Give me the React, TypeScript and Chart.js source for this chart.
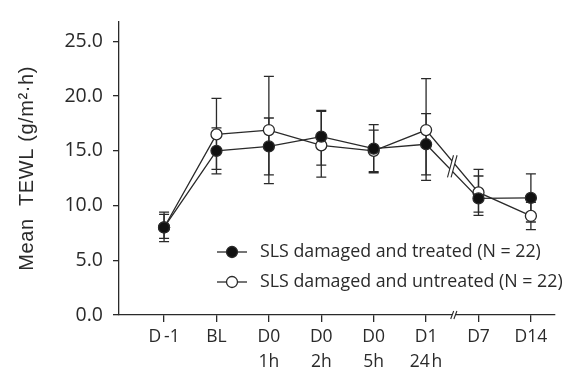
import React, { useEffect, useRef } from 'react';
import { Chart, registerables } from 'chart.js';

Chart.register(...registerables);

// ---- data ----
const categories: string[][] = [['D\u2009-1'], ['BL'], ['D0', '1h'], ['D0', '2h'], ['D0', '5h'], ['D1', '24\u200Ah'], ['D7'], ['D14']];
const treatedMean = [8.0, 15.0, 15.4, 16.3, 15.2, 15.6, 10.65, 10.7];
const treatedUpper = [9.4, 17.1, 18.0, 18.7, 17.4, 18.4, 12.7, 12.9];
const treatedLower = [6.7, 12.9, 12.8, 13.7, 13.0, 12.8, 9.1, 8.5];
const untreatedMean = [8.0, 16.5, 16.9, 15.5, 15.0, 16.9, 11.2, 9.05];
const untreatedUpper = [9.2, 19.8, 21.8, 18.6, 16.9, 21.6, 13.3, 10.3];
const untreatedLower = [7.0, 13.3, 12.0, 12.6, 13.1, 12.3, 9.4, 7.8];
const yTicks = [0, 5, 10, 15, 20, 25];
const legendLabels = ['SLS damaged and treated (N = 22)', 'SLS damaged and untreated (N = 22)'];
const yTitle = 'Mean  TEWL (g/m²·h)';
const breakAt = 5.5;

const INK = '#2a2a2a';
const FONT = '"Open Sans", "Noto Sans", sans-serif';
const TITLE_FONT = '"Liberation Sans", Arial, sans-serif';

const errorBarPlugin = {
  id: 'errorBars',
  beforeDatasetsDraw(chart: any) {
    const { ctx, scales: { x, y } } = chart;
    ctx.save();
    ctx.strokeStyle = INK;
    ctx.lineWidth = 1.3;
    const sets = [[treatedUpper, treatedLower], [untreatedUpper, untreatedLower]];
    sets.forEach(([up, lo]) => {
      up.forEach((u: number, i: number) => {
        const px = x.getPixelForValue(i);
        const pu = y.getPixelForValue(u);
        const pl = y.getPixelForValue(lo[i]);
        ctx.beginPath();
        ctx.moveTo(px, pu); ctx.lineTo(px, pl);
        ctx.moveTo(px - 5, pu); ctx.lineTo(px + 5, pu);
        ctx.moveTo(px - 5, pl); ctx.lineTo(px + 5, pl);
        ctx.stroke();
      });
    });
    ctx.restore();
  },
};

function drawSlashes(ctx: CanvasRenderingContext2D, cx: number, cy: number, half: number, dx: number, gap: number) {
  ctx.save();
  ctx.fillStyle = '#fff';
  ctx.beginPath();
  ctx.moveTo(cx - gap + dx, cy - half);
  ctx.lineTo(cx + gap + dx, cy - half);
  ctx.lineTo(cx + gap - dx, cy + half);
  ctx.lineTo(cx - gap - dx, cy + half);
  ctx.closePath();
  ctx.fill();
  ctx.strokeStyle = INK;
  ctx.lineWidth = 1.1;
  ctx.beginPath();
  ctx.moveTo(cx - gap + dx, cy - half); ctx.lineTo(cx - gap - dx, cy + half);
  ctx.moveTo(cx + gap + dx, cy - half); ctx.lineTo(cx + gap - dx, cy + half);
  ctx.stroke();
  ctx.restore();
}

const breakPlugin = {
  id: 'breaks',
  afterDraw(chart: any) {
    const { ctx, scales: { x, y }, chartArea } = chart;
    const bx = x.getPixelForValue(breakAt);
    const a = (treatedMean[5] + treatedMean[6]) / 2;
    const b = (untreatedMean[5] + untreatedMean[6]) / 2;
    const ya = y.getPixelForValue(a);
    const yb = y.getPixelForValue(b);
    const cy = (ya + yb) / 2;
    const half = Math.abs(ya - yb) / 2 + 6;
    drawSlashes(ctx, bx, cy, half, 3, 1.8);
    drawSlashes(ctx, bx + 1.5, chartArea.bottom, 4, 1.5, 1.6);
  },
};

const legendPlugin = {
  id: 'customLegend',
  afterDraw(chart: any) {
    const { ctx, chartArea } = chart;
    const x0 = chartArea.left + 98;
    const ys = [chartArea.bottom - 63, chartArea.bottom - 33];
    ctx.save();
    ys.forEach((yy, i) => {
      ctx.strokeStyle = INK;
      ctx.lineWidth = 1.3;
      ctx.beginPath();
      ctx.moveTo(x0, yy); ctx.lineTo(x0 + 30, yy);
      ctx.stroke();
      ctx.beginPath();
      ctx.arc(x0 + 15, yy, 5.5, 0, Math.PI * 2);
      ctx.fillStyle = i === 0 ? '#111' : '#fff';
      ctx.fill();
      ctx.lineWidth = 1.3;
      ctx.stroke();
      ctx.fillStyle = INK;
      ctx.font = `17.8px ${FONT}`;
      ctx.textAlign = 'left';
      ctx.textBaseline = 'middle';
      ctx.fillText(legendLabels[i], x0 + 43, yy);
    });
    ctx.restore();
  },
};

const titlePlugin = {
  id: 'yTitle',
  afterDraw(chart: any) {
    const { ctx, chartArea } = chart;
    ctx.save();
    ctx.translate(27, (chartArea.top + chartArea.bottom) / 2);
    ctx.rotate(-Math.PI / 2);
    ctx.font = `20px ${TITLE_FONT}`;
    (ctx as any).letterSpacing = '0.6px';
    ctx.textAlign = 'center';
    ctx.textBaseline = 'middle';
    ctx.fillStyle = INK;
    ctx.fillText(yTitle, 0, 0);
    ctx.restore();
  },
};

export default function App() {
  const ref = useRef<HTMLCanvasElement | null>(null);
  useEffect(() => {
    if (!ref.current) return;
    const chart = new Chart(ref.current, {
      type: 'line',
      data: {
        datasets: [
          {
            label: legendLabels[0],
            data: treatedMean.map((v, i) => ({ x: i, y: v })),
            borderColor: INK,
            borderWidth: 1.3,
            pointRadius: 5.5,
            pointBackgroundColor: '#111',
            pointBorderColor: INK,
            pointBorderWidth: 1.3,
            tension: 0,
          },
          {
            label: legendLabels[1],
            data: untreatedMean.map((v, i) => ({ x: i, y: v })),
            borderColor: INK,
            borderWidth: 1.3,
            pointRadius: 5.5,
            pointBackgroundColor: '#fff',
            pointBorderColor: INK,
            pointBorderWidth: 1.3,
            tension: 0,
          },
        ],
      },
      options: {
        animation: false,
        responsive: true,
        maintainAspectRatio: false,
        layout: { padding: { top: 13, right: 24, left: 0, bottom: 0 } },
        plugins: { legend: { display: false }, tooltip: { enabled: false } },
        scales: {
          x: {
            type: 'linear',
            min: -0.86,
            max: 7.46,
            afterFit: (s: any) => { s.height = 55; },
            afterBuildTicks: (s: any) => { s.ticks = categories.map((_, i) => ({ value: i })); },
            grid: { display: true, drawOnChartArea: false, drawTicks: true, tickLength: 7, color: INK, lineWidth: 1.3 },
            border: { display: true, color: INK, width: 1.3 },
            ticks: {
              color: INK,
              padding: 3,
              maxRotation: 0,
              autoSkip: false,
              font: { family: FONT, size: 17.5, lineHeight: 1.42 },
              callback: (v: any) => categories[Math.round(v)] || '',
            },
          },
          y: {
            type: 'linear',
            min: 0,
            max: 26.8,
            afterFit: (s: any) => { s.width = 119; },
            afterBuildTicks: (s: any) => { s.ticks = yTicks.map((v) => ({ value: v })); },
            grid: { display: true, drawOnChartArea: false, drawTicks: true, tickLength: 6, color: INK, lineWidth: 1.3 },
            border: { display: true, color: INK, width: 1.3 },
            ticks: {
              color: INK,
              padding: 10,
              font: { family: FONT, size: 19.5 },
              callback: (v: any) => Number(v).toFixed(1),
            },
            title: { display: false },
          },
        },
      },
      plugins: [errorBarPlugin, breakPlugin, legendPlugin, titlePlugin],
    } as any);
    return () => chart.destroy();
  }, []);
  return (
    <div style={{ position: 'absolute', left: 0, top: 0, width: 579, height: 370, background: '#fff' }}>
      <canvas ref={ref} />
    </div>
  );
}
